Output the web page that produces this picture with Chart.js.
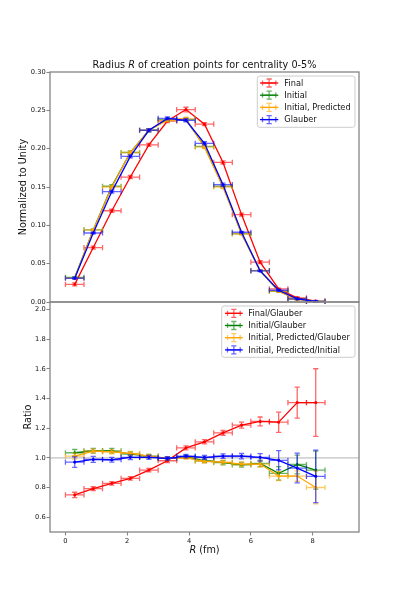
<!DOCTYPE html>
<html>
<head>
<meta charset="utf-8">
<title>Radius R of creation points</title>
<script src="https://cdn.jsdelivr.net/npm/chart.js@4.4.0/dist/chart.umd.min.js"></script>
<style>
  html, body { margin: 0; padding: 0; background: #fff; }
  #wrap { width: 399px; height: 598px; }
</style>
</head>
<body>
<div id="wrap"><canvas id="radiusChart" width="399" height="598"></canvas></div>
<script>
// bin centres in fm, each bin is 0.6 fm wide
var binCenters = [0.3, 0.9, 1.5, 2.1, 2.7, 3.3, 3.9, 4.5, 5.1, 5.7, 6.3, 6.9, 7.5, 8.1];
var binHalfWidth = 0.3;

// upper panel: normalized distributions
var finalNorm       = [0.023, 0.071, 0.119, 0.163, 0.205, 0.236, 0.251, 0.232, 0.182, 0.114, 0.052, 0.017, 0.0055, 0.0011];
var finalNormErr    = [0.002, 0.002, 0.002, 0.002, 0.002, 0.002, 0.003, 0.002, 0.002, 0.002, 0.002, 0.001, 0.001, 0.001];
var initialNorm     = [0.032, 0.094, 0.151, 0.195, 0.224, 0.238, 0.238, 0.203, 0.151, 0.089, 0.041, 0.014, 0.0038, 0.0008];
var initialNormErr  = [0.001, 0.001, 0.002, 0.002, 0.002, 0.002, 0.002, 0.002, 0.002, 0.001, 0.001, 0.001, 0.001, 0.001];
var predictedNorm   = [0.031, 0.094, 0.150, 0.195, 0.224, 0.237, 0.239, 0.202, 0.150, 0.089, 0.041, 0.014, 0.0035, 0.0007];
var predictedNormErr= [0.001, 0.001, 0.002, 0.002, 0.002, 0.002, 0.002, 0.002, 0.002, 0.001, 0.001, 0.001, 0.001, 0.001];
var glauberNorm     = [0.031, 0.090, 0.144, 0.190, 0.224, 0.2395, 0.237, 0.207, 0.153, 0.091, 0.0405, 0.0153, 0.004, 0.0008];
var glauberNormErr  = [0.001, 0.001, 0.002, 0.002, 0.002, 0.002, 0.002, 0.002, 0.002, 0.001, 0.001, 0.001, 0.001, 0.001];

// lower panel: ratios
var finalRatio        = [0.750, 0.792, 0.828, 0.861, 0.917, 0.980, 1.067, 1.108, 1.168, 1.220, 1.245, 1.240, 1.372, 1.372];
var finalRatioErr     = [0.018, 0.013, 0.012, 0.012, 0.012, 0.012, 0.014, 0.014, 0.016, 0.020, 0.030, 0.068, 0.104, 0.228];
var initialRatio      = [1.034, 1.047, 1.047, 1.025, 1.011, 0.996, 1.007, 0.980, 0.967, 0.953, 0.962, 0.895, 0.955, 0.917];
var initialRatioErr   = [0.022, 0.016, 0.016, 0.014, 0.012, 0.010, 0.010, 0.012, 0.014, 0.016, 0.022, 0.045, 0.063, 0.128];
var predictedRatio    = [1.011, 1.045, 1.040, 1.030, 1.011, 0.996, 1.000, 0.976, 0.971, 0.958, 0.958, 0.877, 0.877, 0.800];
var predictedRatioErr = [0.020, 0.014, 0.014, 0.013, 0.012, 0.010, 0.010, 0.012, 0.013, 0.015, 0.020, 0.030, 0.035, 0.110];
var predInitRatio     = [0.971, 0.989, 0.987, 1.003, 1.003, 0.996, 1.011, 1.003, 1.011, 1.011, 1.003, 0.983, 0.931, 0.875];
var predInitRatioErr  = [0.035, 0.020, 0.016, 0.015, 0.013, 0.011, 0.012, 0.013, 0.015, 0.018, 0.025, 0.065, 0.100, 0.177];

var normLabels  = ['Final', 'Initial', 'Initial, Predicted', 'Glauber'];
var ratioLabels = ['Final/Glauber', 'Initial/Glauber', 'Initial, Predicted/Glauber', 'Initial, Predicted/Initial'];
var seriesColors = ['#ff0000', '#008000', '#ffa500', '#0000ff'];

var normTicks  = [0, 0.05, 0.10, 0.15, 0.20, 0.25, 0.30];
var ratioTicks = [0.6, 0.8, 1.0, 1.2, 1.4, 1.6, 1.8, 2.0];
var rTicks     = [0, 2, 4, 6, 8];

var FONT = '"DejaVu Sans", sans-serif';
var SPINE = '#858585';
var CAP = 2.6;

// k = position in the series list; later series are drawn on top
function series(vals, errs, label, k, axis) {
    return {
        label: label,
        yAxisID: axis,
        data: binCenters.map(function(x, i){ return {x: x, y: vals[i]}; }),
        yErr: errs,
        order: 10 - k,
        borderColor: seriesColors[k],
        backgroundColor: seriesColors[k],
        borderWidth: 1.3,
        pointRadius: 0.9,
        pointHoverRadius: 0,
        tension: 0,
        fill: false
    };
}

function rgba(hex, a){
    var n = parseInt(hex.slice(1), 16);
    return 'rgba(' + (n >> 16) + ',' + ((n >> 8) & 255) + ',' + (n & 255) + ',' + a + ')';
}

// error bars of one dataset, drawn just before its line
var errorBars = {
    id: 'errorBars',
    beforeDatasetDraw: function(chart, args){
        var ds = chart.data.datasets[args.index];
        var xs = chart.scales.x, ys = chart.scales[ds.yAxisID];
        var ctx = chart.ctx;
        ctx.save();
        ctx.strokeStyle = rgba(ds.borderColor, 0.6);
        ctx.lineWidth = 1.3;
        ds.data.forEach(function(p, i){
            var cx = xs.getPixelForValue(p.x), cy = ys.getPixelForValue(p.y);
            var x0 = xs.getPixelForValue(p.x - binHalfWidth), x1 = xs.getPixelForValue(p.x + binHalfWidth);
            var y0 = ys.getPixelForValue(p.y - ds.yErr[i]), y1 = ys.getPixelForValue(p.y + ds.yErr[i]);
            ctx.beginPath();
            ctx.moveTo(x0, cy); ctx.lineTo(x1, cy);
            ctx.moveTo(x0, cy - CAP); ctx.lineTo(x0, cy + CAP);
            ctx.moveTo(x1, cy - CAP); ctx.lineTo(x1, cy + CAP);
            ctx.stroke();
            ctx.beginPath();
            ctx.moveTo(cx, y0); ctx.lineTo(cx, y1);
            ctx.moveTo(cx - CAP, y0); ctx.lineTo(cx + CAP, y0);
            ctx.moveTo(cx - CAP, y1); ctx.lineTo(cx + CAP, y1);
            ctx.stroke();
        });
        ctx.restore();
    }
};

function drawParts(ctx, parts, x, y, size, align){
    var w = 0;
    parts.forEach(function(p){
        ctx.font = (p.it ? 'italic ' : '') + size + 'px ' + FONT;
        p.w = ctx.measureText(p.t).width; w += p.w;
    });
    var cx = align === 'center' ? x - w / 2 : x;
    ctx.textAlign = 'left';
    parts.forEach(function(p){
        ctx.font = (p.it ? 'italic ' : '') + size + 'px ' + FONT;
        ctx.fillText(p.t, cx, y); cx += p.w;
    });
}

function drawLegend(ctx, box, labels, symX0, symX1, textX, rows){
    ctx.save();
    ctx.beginPath();
    ctx.roundRect(box[0], box[1], box[2] - box[0], box[3] - box[1], 2.5);
    ctx.fillStyle = 'rgba(255,255,255,0.8)';
    ctx.fill();
    ctx.strokeStyle = '#cccccc';
    ctx.lineWidth = 1;
    ctx.stroke();
    labels.forEach(function(lab, i){
        var y = rows[i], c = seriesColors[i], mid = (symX0 + symX1) / 2;
        ctx.strokeStyle = c; ctx.lineWidth = 1.3;
        ctx.beginPath(); ctx.moveTo(symX0, y); ctx.lineTo(symX1, y); ctx.stroke();
        ctx.strokeStyle = rgba(c, 0.6);
        ctx.beginPath();
        ctx.moveTo(symX0 + 2.5, y); ctx.lineTo(symX1 - 2.5, y);
        ctx.moveTo(symX0 + 2.5, y - CAP); ctx.lineTo(symX0 + 2.5, y + CAP);
        ctx.moveTo(symX1 - 2.5, y - CAP); ctx.lineTo(symX1 - 2.5, y + CAP);
        ctx.moveTo(mid, y - 4); ctx.lineTo(mid, y + 4);
        ctx.moveTo(mid - CAP, y - 4); ctx.lineTo(mid + CAP, y - 4);
        ctx.moveTo(mid - CAP, y + 4); ctx.lineTo(mid + CAP, y + 4);
        ctx.stroke();
        ctx.fillStyle = '#111';
        ctx.font = '8.2px ' + FONT;
        ctx.textAlign = 'left';
        ctx.textBaseline = 'middle';
        ctx.fillText(lab, textX, y + 0.5);
    });
    ctx.restore();
}

var decor = {
    id: 'decor',
    beforeDatasetsDraw: function(chart){
        var ctx = chart.ctx, a = chart.chartArea, yb = chart.scales.yBot;
        var y1 = yb.getPixelForValue(1.0);
        ctx.save();
        ctx.strokeStyle = '#d3d3d3';
        ctx.lineWidth = 1.8;
        ctx.beginPath(); ctx.moveTo(a.left, y1); ctx.lineTo(a.right, y1); ctx.stroke();
        ctx.restore();
    },
    afterDatasetsDraw: function(chart){
        var ctx = chart.ctx, a = chart.chartArea;
        var yt = chart.scales.yTop, yb = chart.scales.yBot;
        ctx.save();
        ctx.strokeStyle = SPINE;
        ctx.lineWidth = 1.3;
        ctx.strokeRect(a.left, yt.top, a.right - a.left, yt.bottom - yt.top);
        ctx.strokeRect(a.left, yb.top, a.right - a.left, yb.bottom - yb.top);
        ctx.restore();
    },
    afterDraw: function(chart){
        var ctx = chart.ctx, a = chart.chartArea;
        var yt = chart.scales.yTop, yb = chart.scales.yBot;
        var mid = (a.left + a.right) / 2;
        ctx.save();
        ctx.fillStyle = '#111';
        ctx.textBaseline = 'alphabetic';
        drawParts(ctx, [{t: 'Radius '}, {t: 'R', it: true}, {t: ' of creation points for centrality 0-5%'}], mid, 67.6, 9.7, 'center');
        drawParts(ctx, [{t: 'R', it: true}, {t: ' (fm)'}], mid, 553.3, 9.7, 'center');

        ctx.font = '9.7px ' + FONT;
        ctx.textAlign = 'center';
        ctx.save();
        ctx.translate(26, (yt.top + yt.bottom) / 2);
        ctx.rotate(-Math.PI / 2);
        ctx.fillText('Normalized to Unity', 0, 0);
        ctx.restore();
        ctx.save();
        ctx.translate(30.7, (yb.top + yb.bottom) / 2);
        ctx.rotate(-Math.PI / 2);
        ctx.fillText('Ratio', 0, 0);
        ctx.restore();
        ctx.restore();

        drawLegend(ctx, [257.3, 76, 355, 127.3], normLabels, 260, 278.3, 284.3, [83, 95.2, 107.4, 119.6]);
        drawLegend(ctx, [221.7, 306, 355, 357.3], ratioLabels, 225, 242.7, 248.3, [313.3, 325.5, 337.7, 349.9]);
    }
};

var tickFont = { family: FONT, size: 6.7 };
var tickGrid = { display: true, drawOnChartArea: false, drawTicks: true, tickLength: 3.5, tickColor: SPINE, tickWidth: 1.1 };

var chart = new Chart(document.getElementById('radiusChart').getContext('2d'), {
    type: 'line',
    data: {
        datasets: [
            series(finalNorm, finalNormErr, normLabels[0], 0, 'yTop'),
            series(initialNorm, initialNormErr, normLabels[1], 1, 'yTop'),
            series(predictedNorm, predictedNormErr, normLabels[2], 2, 'yTop'),
            series(glauberNorm, glauberNormErr, normLabels[3], 3, 'yTop'),
            series(finalRatio, finalRatioErr, ratioLabels[0], 0, 'yBot'),
            series(initialRatio, initialRatioErr, ratioLabels[1], 1, 'yBot'),
            series(predictedRatio, predictedRatioErr, ratioLabels[2], 2, 'yBot'),
            series(predInitRatio, predInitRatioErr, ratioLabels[3], 3, 'yBot')
        ]
    },
    options: {
        responsive: false,
        animation: false,
        events: [],
        layout: { padding: { top: 72, right: 40, bottom: 0, left: 0 } },
        plugins: { legend: { display: false }, tooltip: { enabled: false }, title: { display: false } },
        scales: {
            x: {
                type: 'linear', position: 'bottom', min: -0.5, max: 9.5,
                grid: tickGrid, border: { display: false },
                ticks: { font: tickFont, color: '#111', padding: 2, maxRotation: 0, autoSkip: false },
                afterBuildTicks: function(s){ s.ticks = rTicks.map(function(v){ return {value: v}; }); },
                afterFit: function(s){ s.height = 66; }
            },
            yBot: {
                type: 'linear', position: 'left', stack: 'panels', stackWeight: 1,
                min: 0.5, max: 2.05,
                grid: tickGrid, border: { display: false },
                ticks: { font: tickFont, color: '#111', padding: 0.8, autoSkip: false,
                         callback: function(v){ return v.toFixed(1); } },
                afterBuildTicks: function(s){ s.ticks = ratioTicks.map(function(v){ return {value: v}; }); },
                afterFit: function(s){ s.width = 50; }
            },
            yTop: {
                type: 'linear', position: 'left', stack: 'panels', stackWeight: 1,
                min: 0, max: 0.30,
                grid: tickGrid, border: { display: false },
                ticks: { font: tickFont, color: '#111', padding: 0.8, autoSkip: false,
                         callback: function(v){ return v.toFixed(2); } },
                afterBuildTicks: function(s){ s.ticks = normTicks.map(function(v){ return {value: v}; }); },
                afterFit: function(s){ s.width = 50; }
            }
        }
    },
    plugins: [errorBars, decor]
});
</script>
</body>
</html>
